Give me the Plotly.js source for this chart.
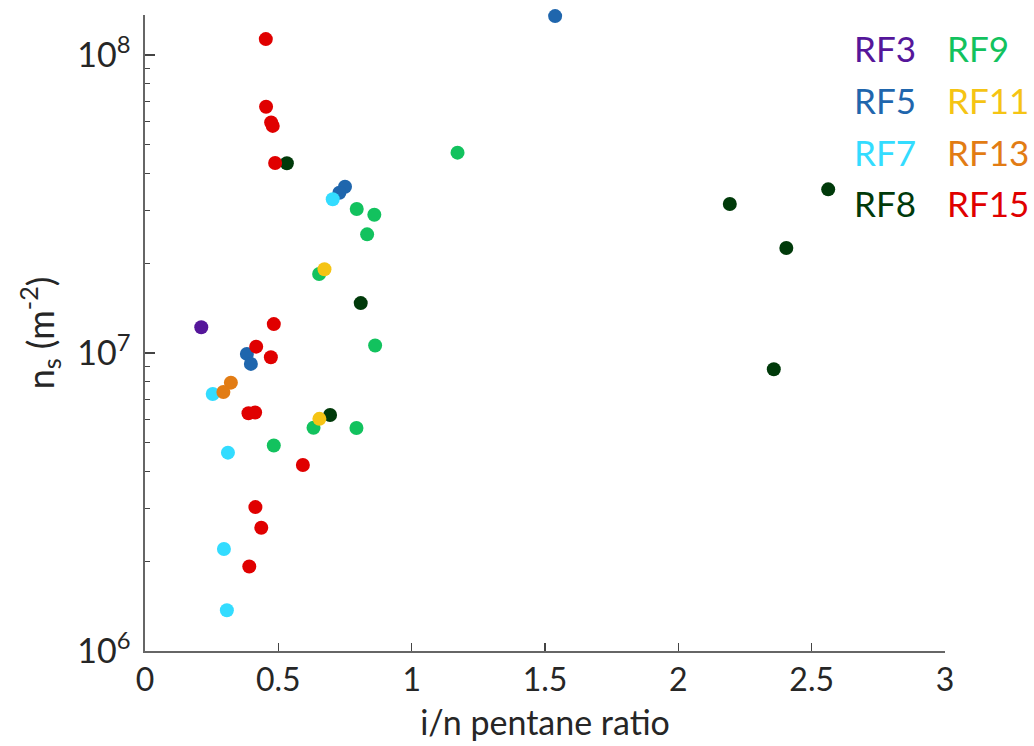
<!DOCTYPE html>
<html>
<head>
<meta charset="utf-8">
<script src="https://cdn.plot.ly/plotly-3.0.1.min.js"></script>
<style>html,body{margin:0;padding:0;background:#fff;}#chart{width:1034px;height:746px;}</style>
</head>
<body>
<div id="chart"></div>
<script>
// Series names and colours
const seriesNames = ["RF3", "RF5", "RF7", "RF8", "RF9", "RF11", "RF13", "RF15"];
const seriesColors = ["#55169a", "#1f66ad", "#33dcff", "#003a0a", "#12c25e", "#f5c414", "#e27c14", "#e00000"];

// i/n pentane ratio (x) and n_s (m^-2) (y) per flight
const rf3_x = [0.211];
const rf3_y = [1.22e7];

const rf5_x = [1.538, 0.750, 0.729, 0.382, 0.397];
const rf5_y = [1.35e8, 3.61e7, 3.45e7, 9.93e6, 9.19e6];

const rf7_x = [0.704, 0.254, 0.311, 0.296, 0.307];
const rf7_y = [3.28e7, 7.28e6, 4.63e6, 2.20e6, 1.37e6];

const rf8_x = [0.532, 0.809, 0.694, 2.193, 2.562, 2.405, 2.358];
const rf8_y = [4.33e7, 1.47e7, 6.19e6, 3.16e7, 3.54e7, 2.25e7, 8.82e6];

const rf9_x = [1.172, 0.794, 0.860, 0.833, 0.653, 0.863, 0.632, 0.793, 0.483];
const rf9_y = [4.70e7, 3.04e7, 2.91e7, 2.50e7, 1.84e7, 1.06e7, 5.61e6, 5.60e6, 4.89e6];

const rf11_x = [0.673, 0.654];
const rf11_y = [1.91e7, 6.01e6];

const rf13_x = [0.322, 0.294];
const rf13_y = [7.95e6, 7.40e6];

const rf15_x = [0.453, 0.454, 0.473, 0.479, 0.488, 0.483, 0.417, 0.472, 0.388, 0.413, 0.592, 0.414, 0.436, 0.391];
const rf15_y = [1.13e8, 6.70e7, 5.93e7, 5.78e7, 4.34e7, 1.25e7, 1.05e7, 9.68e6, 6.28e6, 6.31e6, 4.21e6, 3.04e6, 2.59e6, 1.92e6];

// Axis ticks
const xTickVals = [0, 0.5, 1, 1.5, 2, 2.5, 3];
const xTickText = ["0", "0.5", "1", "1.5", "2", "2.5", "3"];
const yTickVals = [1e6, 1e7, 1e8];
const yTickText = ["10<sup>6</sup>", "10<sup>7</sup>", "10<sup>8</sup>"];
const yMinorVals = [2e6, 3e6, 4e6, 5e6, 6e6, 7e6, 8e6, 9e6, 2e7, 3e7, 4e7, 5e7, 6e7, 7e7, 8e7, 9e7];

const xs = [rf3_x, rf5_x, rf7_x, rf8_x, rf9_x, rf11_x, rf13_x, rf15_x];
const ys = [rf3_y, rf5_y, rf7_y, rf8_y, rf9_y, rf11_y, rf13_y, rf15_y];

const font = "Lato, 'Open Sans', sans-serif";
const traces = seriesNames.map((n, i) => ({
  type: "scatter", mode: "markers", name: n,
  x: xs[i], y: ys[i],
  marker: {size: 14, color: seriesColors[i], line: {width: 0}},
  cliponaxis: false,
  showlegend: false
}));

// Legend as coloured text, two columns of four
const legCols = [0.884, 1.0];
const legRows = [0.948, 0.866, 0.784, 0.704];
const annotations = seriesNames.map((n, i) => ({
  text: n, xref: "paper", yref: "paper",
  x: legCols[Math.floor(i / 4)], y: legRows[i % 4],
  xanchor: "left", yanchor: "middle", showarrow: false,
  font: {family: font, size: 35, color: seriesColors[i]}
}));

const layout = {
  width: 1034, height: 746,
  margin: {l: 145, r: 89, t: 15, b: 95},
  paper_bgcolor: "#fff", plot_bgcolor: "#fff",
  showlegend: false,
  font: {family: font, color: "#262626"},
  xaxis: {
    range: [0, 3], tickvals: xTickVals, ticktext: xTickText,
    ticks: "inside", ticklen: 8, tickwidth: 1.2, tickcolor: "#444",
    showline: true, linecolor: "#666", linewidth: 1.6,
    showgrid: false, zeroline: false,
    tickfont: {size: 32, family: font, color: "#262626"},
    title: {text: "i/n pentane ratio", font: {size: 34, family: font, color: "#262626"}, standoff: 14}
  },
  yaxis: {
    type: "log", range: [6, 8.134], tickvals: yTickVals, ticktext: yTickText,
    ticks: "inside", ticklen: 10, tickwidth: 1.2, tickcolor: "#444",
    minor: {tickvals: yMinorVals, ticks: "inside", ticklen: 5, tickwidth: 1, tickcolor: "#444", showgrid: false},
    showline: true, linecolor: "#666", linewidth: 1.6,
    showgrid: false, zeroline: false,
    ticklabelstandoff: 6,
    tickfont: {size: 34, family: font, color: "#262626"},
    title: {text: "n<sub>s</sub> (m<sup>-2</sup>)", font: {size: 36, family: font, color: "#262626"}, standoff: 12}
  },
  annotations: annotations
};

Plotly.newPlot("chart", traces, layout, {displayModeBar: false, staticPlot: true});
</script>
</body>
</html>
